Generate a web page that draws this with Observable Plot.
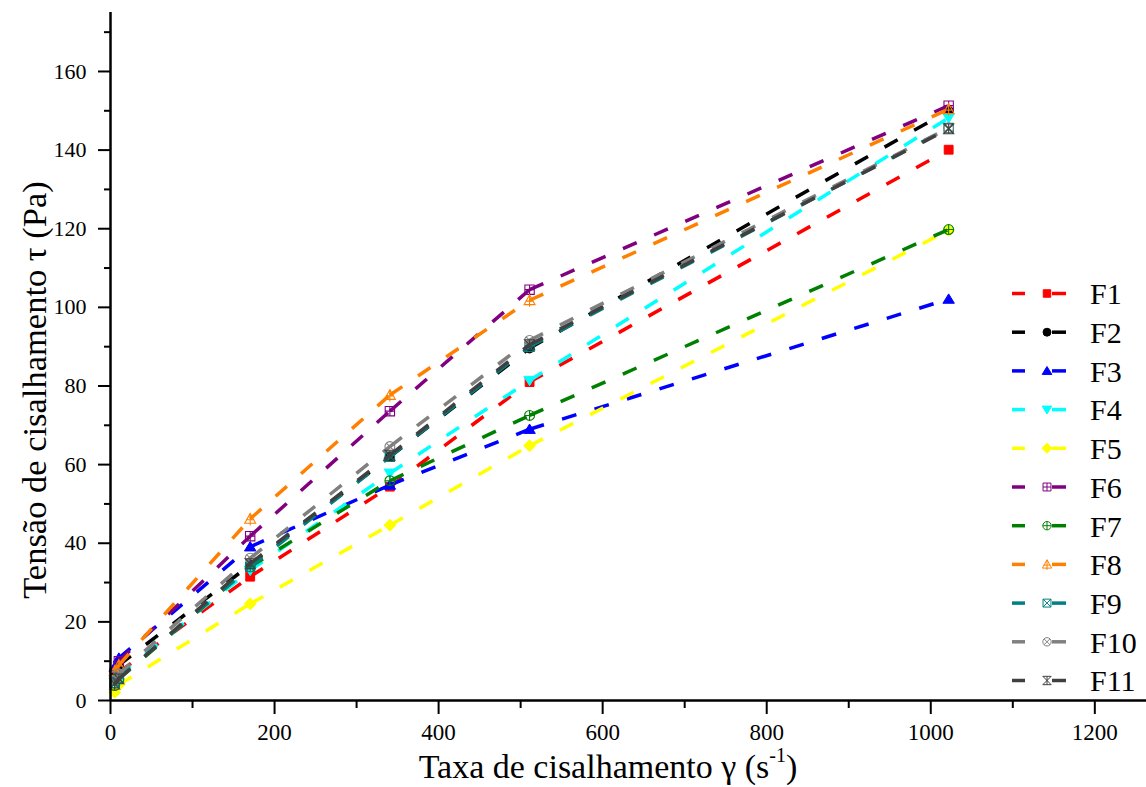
<!DOCTYPE html>
<html>
<head>
<meta charset="utf-8">
<script src="https://cdn.jsdelivr.net/npm/d3@7"></script>
<script src="https://cdn.jsdelivr.net/npm/@observablehq/plot@0.6"></script>
<style>
  html, body { margin: 0; padding: 0; background: #fff; }
  #wrap { position: relative; width: 1146px; height: 787px; overflow: hidden; font-family: "Liberation Serif", "Times New Roman", serif; }
  #ytitle { position: absolute; left: 34px; top: 390px; transform: translate(-50%, -50%) rotate(-90deg); white-space: nowrap; font-size: 34.5px; line-height: 1; color: #000; }
  #xtitle { position: absolute; left: 608px; top: 750px; transform: translateX(-50%); white-space: nowrap; font-size: 34px; line-height: 1; color: #000; }
  #xtitle sup { font-size: 20px; vertical-align: 0; position: relative; top: -16px; }
</style>
</head>
<body>
<div id="wrap">
  <div id="ytitle">Tensão de cisalhamento τ (Pa)</div>
  <div id="xtitle">Taxa de cisalhamento γ (s<sup>-1</sup>)</div>
</div>
<script>
// ---- data ----
const shearRates = [5.1, 10.2, 170.3, 340.6, 510.9, 1021.8];
const seriesNames = ["F1", "F2", "F3", "F4", "F5", "F6", "F7", "F8", "F9", "F10", "F11"];
const F1  = [5.0, 7.2, 31.5, 54.4, 81.0, 140.1];
const F2  = [6.0, 9.0, 34.5, 62.0, 89.6, 150.0];
const F3  = [8.5, 10.8, 39.1, 54.8, 69.0, 102.1];
const F4  = [5.0, 6.5, 33.1, 57.8, 81.4, 148.2];
const F5  = [2.1, 4.0, 24.6, 44.6, 64.8, 119.6];
const F6  = [7.0, 10.0, 41.8, 73.6, 104.5, 151.3];
const F7  = [3.8, 5.5, 34.0, 55.9, 72.5, 119.8];
const F8  = [7.5, 9.0, 46.2, 77.7, 101.8, 150.4];
const F9  = [4.5, 5.8, 34.0, 62.0, 90.0, 145.6];
const F10 = [5.0, 6.8, 36.2, 64.6, 91.6, 145.6];
const F11 = [4.2, 5.5, 34.8, 62.4, 90.5, 145.4];
const seriesValues = [F1, F2, F3, F4, F5, F6, F7, F8, F9, F10, F11];
const seriesColors = ["#ff0000", "#000000", "#0000ff", "#00ffff", "#ffff00", "#800080",
                      "#008000", "#ff8000", "#008080", "#808080", "#404040"];
const seriesSymbols = ["square", "circle", "triangleUp", "triangleDown", "diamond", "squarePlus",
                       "circlePlus", "trianglePlus", "squareTimes", "circleTimes", "hourglass"];
const seriesFilled = [true, true, true, true, true, false, false, false, false, false, false];
const xMajorTicks = [0, 200, 400, 600, 800, 1000, 1200];
const xMinorTicks = [100, 300, 500, 700, 900, 1100];
const yMajorTicks = [0, 20, 40, 60, 80, 100, 120, 140, 160];
const yMinorTicks = [10, 30, 50, 70, 90, 110, 130, 150, 170];

// ---- custom symbols ----
function rad(size) { return Math.sqrt(size / Math.PI); }
const symbolDefs = {
  square: { draw(c, s) { const a = rad(s) * 0.85; c.rect(-a, -a, 2 * a, 2 * a); } },
  circle: { draw(c, s) { const a = rad(s) * 0.9; c.moveTo(a, 0); c.arc(0, 0, a, 0, 2 * Math.PI); } },
  triangleUp: { draw(c, s) { const a = rad(s); c.moveTo(0, -a); c.lineTo(a * 1.1, a * 0.8); c.lineTo(-a * 1.1, a * 0.8); c.closePath(); } },
  triangleDown: { draw(c, s) { const a = rad(s); c.moveTo(0, a); c.lineTo(a * 1.1, -a * 0.8); c.lineTo(-a * 1.1, -a * 0.8); c.closePath(); } },
  diamond: { draw(c, s) { const a = rad(s) * 1.15; c.moveTo(0, -a); c.lineTo(a, 0); c.lineTo(0, a); c.lineTo(-a, 0); c.closePath(); } },
  squarePlus: { draw(c, s) { const a = rad(s) * 0.9; c.rect(-a, -a, 2 * a, 2 * a); c.moveTo(-a, 0); c.lineTo(a, 0); c.moveTo(0, -a); c.lineTo(0, a); } },
  circlePlus: { draw(c, s) { const a = rad(s) * 0.95; c.moveTo(a, 0); c.arc(0, 0, a, 0, 2 * Math.PI); c.moveTo(-a, 0); c.lineTo(a, 0); c.moveTo(0, -a); c.lineTo(0, a); } },
  trianglePlus: { draw(c, s) { const a = rad(s) * 1.05; c.moveTo(0, -a); c.lineTo(a, a * 0.8); c.lineTo(-a, a * 0.8); c.closePath(); c.moveTo(0, -a); c.lineTo(0, a * 1.2); c.moveTo(-a * 0.75, a * 0.15); c.lineTo(a * 0.75, a * 0.15); } },
  squareTimes: { draw(c, s) { const a = rad(s) * 0.9; c.rect(-a, -a, 2 * a, 2 * a); c.moveTo(-a, -a); c.lineTo(a, a); c.moveTo(a, -a); c.lineTo(-a, a); } },
  circleTimes: { draw(c, s) { const a = rad(s) * 0.95; const b = a * 0.707; c.moveTo(a, 0); c.arc(0, 0, a, 0, 2 * Math.PI); c.moveTo(-b, -b); c.lineTo(b, b); c.moveTo(b, -b); c.lineTo(-b, b); } },
  hourglass: { draw(c, s) { const a = rad(s) * 0.95; c.moveTo(-a, -a); c.lineTo(a, -a); c.lineTo(-a, a); c.lineTo(a, a); c.closePath(); c.moveTo(0, -a); c.lineTo(0, a); } }
};

// ---- derived tables ----
const marks = [];
seriesNames.forEach((name, k) => {
  const vals = seriesValues[k];
  const pts = shearRates.map((x, i) => ({x, y: vals[i]}));
  const segs = pts.slice(0, -1).map((p, i) => ({x1: p.x, y1: p.y, x2: pts[i + 1].x, y2: pts[i + 1].y}));
  marks.push(Plot.link(segs, {x1: "x1", y1: "y1", x2: "x2", y2: "y2",
    stroke: seriesColors[k], strokeWidth: 3.5, strokeDasharray: "15,19"}));
  marks.push(Plot.dot(pts, {x: "x", y: "y", r: 5.2, symbol: symbolDefs[seriesSymbols[k]],
    fill: seriesFilled[k] ? seriesColors[k] : "none", stroke: seriesColors[k],
    strokeWidth: seriesFilled[k] ? 1 : 1.1}));
});

const chart = Plot.plot({
  width: 1146, height: 787,
  marginLeft: 110, marginRight: 0, marginTop: 12, marginBottom: 87,
  x: {domain: [0, 1263]},
  y: {domain: [0, 175]},
  style: {fontFamily: "'Liberation Serif', 'Times New Roman', serif", background: "white", color: "#000"},
  marks: [
    ...marks,
    Plot.axisX({ticks: xMajorTicks, tickSize: 14, tickPadding: 9, fontSize: 23, tickFormat: "d", label: null, strokeWidth: 2}),
    Plot.axisX({ticks: xMinorTicks, tickSize: 8, text: null, label: null, strokeWidth: 2}),
    Plot.axisY({ticks: yMajorTicks, tickSize: 12, tickPadding: 12, fontSize: 22, tickFormat: "d", label: null, strokeWidth: 2}),
    Plot.axisY({ticks: yMinorTicks, tickSize: 6, text: null, label: null, strokeWidth: 2}),
    Plot.ruleY([0], {strokeWidth: 2.5}),
    Plot.ruleX([0], {strokeWidth: 2.5})
  ]
});
document.getElementById("wrap").prepend(chart);

// ---- legend (inside the svg, at right) ----
const svg = d3.select(chart);
const lg = svg.append("g").attr("transform", "translate(1012, 293.5)");
seriesNames.forEach((name, k) => {
  const row = lg.append("g").attr("transform", `translate(0, ${k * 38.7})`);
  row.append("line").attr("x1", 0).attr("x2", 13).attr("y1", 0).attr("y2", 0)
    .attr("stroke", seriesColors[k]).attr("stroke-width", 3.5);
  row.append("line").attr("x1", 40).attr("x2", 54).attr("y1", 0).attr("y2", 0)
    .attr("stroke", seriesColors[k]).attr("stroke-width", 3.5);
  const p = d3.symbol(symbolDefs[seriesSymbols[k]], 4.4 * 4.4 * Math.PI)();
  row.append("path").attr("d", p).attr("transform", "translate(35,0)")
    .attr("fill", seriesFilled[k] ? seriesColors[k] : "#fff")
    .attr("stroke", seriesColors[k]).attr("stroke-width", 1);
  row.append("text").attr("x", 78).attr("y", 0).attr("dy", "0.36em")
    .attr("text-anchor", "start")
    .attr("font-size", 30).attr("fill", "#000").text(name);
});
</script>
</body>
</html>
